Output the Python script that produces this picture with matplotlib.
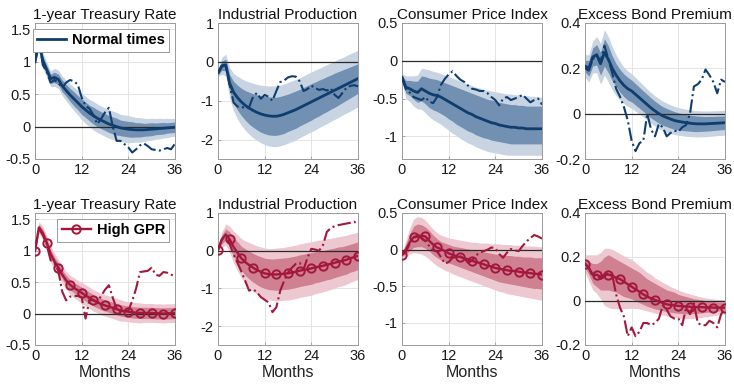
import numpy as np
import matplotlib
matplotlib.use("Agg")
import matplotlib.pyplot as plt
from matplotlib.ticker import FuncFormatter

plt.rcParams['font.family'] = ['Liberation Sans', 'DejaVu Sans']
plt.rcParams['axes.unicode_minus'] = False

months = np.arange(37)

titles = ["1-year Treasury Rate", "Industrial Production",
          "Consumer Price Index", "Excess Bond Premium"]
legend_labels = ["Normal times", "High GPR"]
x_ticks = [0, 12, 24, 36]

# --- normal times ---
rate_n_med = [1.00, 1.30, 1.02, 0.88, 0.74, 0.76, 0.73, 0.63, 0.56, 0.49, 0.43, 0.37, 0.31, 0.26, 0.21, 0.17, 0.13, 0.10, 0.07,
              0.04, 0.02, 0.00, -0.02, -0.03, -0.04, -0.045, -0.05, -0.05, -0.05, -0.045, -0.04, -0.035, -0.03, -0.025, -0.02, -0.015, -0.01]
rate_n_in_lo = [0.99, 1.23, 0.95, 0.81, 0.67, 0.68, 0.65, 0.54, 0.47, 0.39, 0.32, 0.26, 0.19, 0.14, 0.09, 0.04, 0.00, -0.03, -0.06,
                -0.09, -0.11, -0.13, -0.14, -0.15, -0.16, -0.165, -0.16, -0.16, -0.15, -0.145, -0.14, -0.125, -0.12, -0.115, -0.10, -0.095, -0.09]
rate_n_in_hi = [1.01, 1.37, 1.09, 0.95, 0.81, 0.84, 0.81, 0.72, 0.65, 0.59, 0.54, 0.48, 0.43, 0.38, 0.33, 0.30, 0.26, 0.23, 0.20,
                0.17, 0.15, 0.13, 0.10, 0.09, 0.08, 0.075, 0.06, 0.06, 0.05, 0.055, 0.06, 0.055, 0.06, 0.065, 0.06, 0.065, 0.07]
rate_n_out_lo = [0.98, 1.18, 0.90, 0.76, 0.62, 0.62, 0.59, 0.48, 0.40, 0.32, 0.25, 0.18, 0.11, 0.05, 0.00, -0.05, -0.09, -0.12, -0.15,
                 -0.18, -0.20, -0.22, -0.23, -0.24, -0.25, -0.245, -0.24, -0.24, -0.23, -0.215, -0.21, -0.195, -0.19, -0.175, -0.17, -0.155, -0.15]
rate_n_out_hi = [1.02, 1.42, 1.14, 1.00, 0.86, 0.90, 0.87, 0.78, 0.72, 0.66, 0.61, 0.56, 0.51, 0.47, 0.42, 0.39, 0.35, 0.32, 0.29,
                 0.26, 0.24, 0.22, 0.19, 0.18, 0.17, 0.155, 0.14, 0.14, 0.13, 0.125, 0.13, 0.125, 0.13, 0.125, 0.13, 0.125, 0.13]
rate_n_lp = [1.00, 1.38, 0.95, 0.85, 0.68, 0.72, 0.67, 0.60, 0.68, 0.72, 0.70, 0.65, 0.45, 0.32, 0.28, 0.18, 0.04, 0.12, 0.22,
             0.29, 0.00, -0.22, -0.22, -0.27, -0.32, -0.40, -0.35, -0.29, -0.26, -0.30, -0.35, -0.36, -0.37, -0.35, -0.33, -0.35, -0.26]

ip_n_med = [-0.28, -0.10, -0.08, -0.55, -0.78, -0.92, -1.03, -1.12, -1.19, -1.25, -1.30, -1.34, -1.37, -1.39, -1.40, -1.40, -1.38, -1.35, -1.31,
            -1.27, -1.23, -1.18, -1.13, -1.08, -1.03, -0.98, -0.93, -0.88, -0.83, -0.78, -0.73, -0.68, -0.63, -0.58, -0.53, -0.48, -0.43]
ip_n_in_lo = [-0.34, -0.22, -0.23, -0.77, -1.06, -1.24, -1.38, -1.50, -1.60, -1.68, -1.75, -1.81, -1.85, -1.88, -1.89, -1.89, -1.87, -1.84, -1.79,
              -1.75, -1.71, -1.65, -1.60, -1.55, -1.50, -1.44, -1.39, -1.33, -1.28, -1.22, -1.17, -1.11, -1.05, -0.99, -0.93, -0.87, -0.81]
ip_n_in_hi = [-0.22, 0.02, 0.07, -0.33, -0.50, -0.60, -0.68, -0.74, -0.78, -0.82, -0.85, -0.87, -0.89, -0.90, -0.91, -0.91, -0.89, -0.86, -0.83,
              -0.79, -0.75, -0.71, -0.66, -0.61, -0.56, -0.52, -0.47, -0.43, -0.38, -0.34, -0.29, -0.25, -0.21, -0.17, -0.13, -0.09, -0.05]
ip_n_out_lo = [-0.38, -0.32, -0.36, -0.95, -1.26, -1.47, -1.63, -1.76, -1.86, -1.95, -2.02, -2.08, -2.13, -2.16, -2.18, -2.18, -2.16, -2.13, -2.09,
               -2.05, -2.01, -1.95, -1.90, -1.85, -1.80, -1.75, -1.69, -1.64, -1.59, -1.53, -1.48, -1.43, -1.37, -1.32, -1.27, -1.21, -1.16]
ip_n_out_hi = [-0.18, 0.12, 0.20, -0.15, -0.30, -0.37, -0.43, -0.48, -0.52, -0.55, -0.58, -0.60, -0.61, -0.62, -0.62, -0.62, -0.60, -0.57, -0.53,
               -0.49, -0.45, -0.41, -0.36, -0.31, -0.26, -0.21, -0.17, -0.12, -0.07, -0.03, 0.02, 0.07, 0.11, 0.16, 0.21, 0.25, 0.30]
ip_n_lp = [-0.30, -0.12, -0.08, -0.60, -1.05, -1.15, -1.15, -1.20, -1.17, -0.90, -0.80, -0.95, -0.85, -0.90, -1.00, -0.75, -0.52, -0.48, -0.40,
           -0.37, -0.38, -0.50, -0.75, -0.70, -0.61, -0.68, -0.72, -0.70, -0.74, -0.68, -0.85, -0.93, -0.80, -0.67, -0.62, -0.60, -0.63]

cpi_n_med = [-0.22, -0.35, -0.37, -0.40, -0.42, -0.37, -0.40, -0.43, -0.45, -0.46, -0.48, -0.51, -0.54, -0.57, -0.60, -0.63, -0.66, -0.69, -0.71,
             -0.74, -0.76, -0.78, -0.80, -0.82, -0.83, -0.85, -0.86, -0.87, -0.88, -0.88, -0.89, -0.89, -0.90, -0.90, -0.90, -0.90, -0.90]
cpi_n_in_lo = [-0.25, -0.43, -0.46, -0.51, -0.55, -0.53, -0.57, -0.62, -0.65, -0.67, -0.70, -0.73, -0.77, -0.80, -0.84, -0.87, -0.90, -0.93, -0.95,
               -0.98, -1.00, -1.02, -1.03, -1.05, -1.06, -1.07, -1.08, -1.09, -1.10, -1.10, -1.10, -1.10, -1.10, -1.10, -1.10, -1.10, -1.10]
cpi_n_in_hi = [-0.19, -0.26, -0.26, -0.27, -0.27, -0.20, -0.21, -0.23, -0.24, -0.25, -0.27, -0.29, -0.31, -0.33, -0.35, -0.37, -0.39, -0.41, -0.43,
               -0.45, -0.47, -0.49, -0.51, -0.52, -0.53, -0.55, -0.56, -0.57, -0.58, -0.58, -0.59, -0.59, -0.60, -0.60, -0.60, -0.60, -0.60]
cpi_n_out_lo = [-0.28, -0.50, -0.54, -0.60, -0.64, -0.64, -0.69, -0.74, -0.78, -0.81, -0.84, -0.88, -0.92, -0.96, -0.99, -1.03, -1.06, -1.09, -1.11,
                -1.14, -1.16, -1.18, -1.20, -1.21, -1.22, -1.23, -1.24, -1.25, -1.25, -1.25, -1.25, -1.25, -1.25, -1.25, -1.25, -1.25, -1.25]
cpi_n_out_hi = [-0.17, -0.20, -0.20, -0.20, -0.19, -0.10, -0.11, -0.12, -0.14, -0.15, -0.17, -0.19, -0.21, -0.23, -0.25, -0.27, -0.29, -0.31, -0.33,
                -0.35, -0.36, -0.38, -0.39, -0.40, -0.41, -0.42, -0.43, -0.44, -0.44, -0.45, -0.45, -0.46, -0.46, -0.47, -0.47, -0.48, -0.48]
cpi_n_lp = [-0.22, -0.38, -0.42, -0.48, -0.50, -0.52, -0.48, -0.54, -0.56, -0.48, -0.32, -0.24, -0.18, -0.14, -0.20, -0.25, -0.28, -0.33, -0.37,
            -0.38, -0.40, -0.40, -0.43, -0.48, -0.52, -0.59, -0.50, -0.48, -0.52, -0.50, -0.48, -0.45, -0.50, -0.55, -0.52, -0.50, -0.58]

ebp_n_med = [0.21, 0.20, 0.25, 0.26, 0.22, 0.27, 0.24, 0.20, 0.17, 0.145, 0.125, 0.11, 0.10, 0.085, 0.07, 0.055, 0.04, 0.025, 0.012,
             0.0, -0.01, -0.017, -0.024, -0.03, -0.034, -0.037, -0.04, -0.042, -0.044, -0.045, -0.045, -0.045, -0.044, -0.043, -0.042, -0.041, -0.04]
ebp_n_in_lo = [0.185, 0.165, 0.21, 0.215, 0.17, 0.21, 0.18, 0.145, 0.12, 0.095, 0.075, 0.06, 0.052, 0.038, 0.024, 0.01, -0.005, -0.019, -0.031,
               -0.042, -0.051, -0.057, -0.064, -0.069, -0.072, -0.074, -0.076, -0.077, -0.079, -0.079, -0.078, -0.077, -0.076, -0.074, -0.073, -0.071, -0.07]
ebp_n_in_hi = [0.235, 0.235, 0.29, 0.305, 0.27, 0.33, 0.30, 0.255, 0.22, 0.195, 0.175, 0.16, 0.148, 0.132, 0.116, 0.10, 0.085, 0.069, 0.055,
               0.042, 0.031, 0.023, 0.016, 0.009, 0.004, 0.0, -0.004, -0.007, -0.009, -0.011, -0.012, -0.013, -0.012, -0.012, -0.011, -0.011, -0.01]
ebp_n_out_lo = [0.16, 0.14, 0.18, 0.18, 0.13, 0.17, 0.14, 0.105, 0.08, 0.06, 0.045, 0.032, 0.024, 0.011, -0.002, -0.015, -0.029, -0.043, -0.055,
                -0.066, -0.075, -0.081, -0.087, -0.092, -0.095, -0.097, -0.10, -0.101, -0.102, -0.103, -0.102, -0.102, -0.10, -0.099, -0.097, -0.096, -0.095]
ebp_n_out_hi = [0.26, 0.26, 0.32, 0.34, 0.31, 0.37, 0.34, 0.295, 0.26, 0.23, 0.205, 0.188, 0.176, 0.159, 0.142, 0.125, 0.109, 0.093, 0.079,
                0.066, 0.055, 0.047, 0.039, 0.032, 0.027, 0.023, 0.02, 0.017, 0.014, 0.013, 0.012, 0.012, 0.012, 0.013, 0.013, 0.014, 0.015]
ebp_n_lp = [0.20, 0.19, 0.24, 0.26, 0.23, 0.30, 0.24, 0.18, 0.11, 0.075, 0.03, -0.03, -0.12, -0.165, -0.13, -0.12, 0.0, -0.07, -0.10,
            -0.045, -0.06, -0.10, -0.085, -0.075, -0.08, -0.06, -0.05, 0.0, 0.12, 0.13, 0.15, 0.195, 0.17, 0.14, 0.09, 0.15, 0.14]

# --- high GPR ---
rate_h_med = [1.00, 1.37, 1.28, 1.13, 0.95, 0.83, 0.73, 0.62, 0.53, 0.46, 0.41, 0.37, 0.33, 0.29, 0.25, 0.21, 0.18, 0.15, 0.13,
              0.11, 0.09, 0.07, 0.05, 0.04, 0.03, 0.02, 0.015, 0.01, 0.01, 0.01, 0.01, 0.005, 0.005, 0.0, 0.005, 0.005, 0.01]
rate_h_in_lo = [0.99, 1.32, 1.22, 1.06, 0.88, 0.76, 0.66, 0.55, 0.45, 0.38, 0.33, 0.28, 0.24, 0.20, 0.16, 0.12, 0.09, 0.06, 0.04,
                0.02, 0.00, -0.02, -0.04, -0.05, -0.06, -0.07, -0.075, -0.08, -0.08, -0.08, -0.08, -0.085, -0.085, -0.09, -0.085, -0.085, -0.08]
rate_h_in_hi = [1.01, 1.42, 1.34, 1.20, 1.02, 0.90, 0.80, 0.69, 0.61, 0.54, 0.49, 0.46, 0.42, 0.38, 0.34, 0.30, 0.27, 0.24, 0.22,
                0.20, 0.18, 0.16, 0.14, 0.13, 0.12, 0.11, 0.105, 0.10, 0.10, 0.10, 0.10, 0.095, 0.095, 0.09, 0.095, 0.095, 0.10]
rate_h_out_lo = [0.98, 1.28, 1.17, 1.01, 0.82, 0.70, 0.60, 0.48, 0.39, 0.31, 0.25, 0.21, 0.16, 0.12, 0.08, 0.04, 0.01, -0.02, -0.04,
                 -0.06, -0.08, -0.10, -0.12, -0.12, -0.13, -0.14, -0.145, -0.15, -0.14, -0.14, -0.14, -0.145, -0.145, -0.15, -0.145, -0.145, -0.14]
rate_h_out_hi = [1.02, 1.46, 1.39, 1.25, 1.08, 0.96, 0.86, 0.76, 0.67, 0.61, 0.57, 0.53, 0.50, 0.46, 0.42, 0.38, 0.35, 0.32, 0.30,
                 0.28, 0.26, 0.24, 0.22, 0.20, 0.19, 0.18, 0.175, 0.17, 0.16, 0.16, 0.16, 0.155, 0.155, 0.15, 0.155, 0.155, 0.16]
rate_h_lp = [1.00, 1.35, 1.25, 1.10, 0.85, 0.80, 0.68, 0.35, 0.21, 0.27, 0.28, 0.28, 0.26, -0.08, 0.21, 0.22, 0.18, 0.28, 0.38,
             0.45, 0.25, 0.08, 0.02, 0.03, 0.05, 0.20, 0.40, 0.66, 0.67, 0.68, 0.73, 0.62, 0.60, 0.66, 0.65, 0.62, 0.59]

ip_h_med = [0.03, 0.30, 0.43, 0.30, 0.10, -0.05, -0.20, -0.30, -0.38, -0.45, -0.51, -0.56, -0.60, -0.62, -0.63, -0.63, -0.62, -0.61, -0.60,
            -0.58, -0.56, -0.53, -0.51, -0.49, -0.47, -0.44, -0.42, -0.40, -0.37, -0.35, -0.32, -0.29, -0.27, -0.24, -0.20, -0.17, -0.13]
ip_h_in_lo = [0.00, 0.18, 0.28, 0.10, -0.15, -0.34, -0.52, -0.65, -0.75, -0.83, -0.90, -0.96, -1.00, -1.03, -1.04, -1.05, -1.04, -1.03, -1.02,
              -1.00, -0.98, -0.95, -0.93, -0.91, -0.89, -0.85, -0.83, -0.80, -0.77, -0.75, -0.71, -0.68, -0.65, -0.62, -0.57, -0.54, -0.50]
ip_h_in_hi = [0.06, 0.42, 0.58, 0.50, 0.35, 0.24, 0.12, 0.05, -0.01, -0.07, -0.12, -0.16, -0.20, -0.21, -0.22, -0.21, -0.20, -0.19, -0.18,
              -0.16, -0.14, -0.11, -0.09, -0.07, -0.05, -0.03, -0.01, 0.00, 0.03, 0.05, 0.07, 0.10, 0.11, 0.14, 0.17, 0.20, 0.24]
ip_h_out_lo = [-0.02, 0.10, 0.15, -0.05, -0.32, -0.53, -0.72, -0.86, -0.98, -1.07, -1.15, -1.22, -1.27, -1.30, -1.32, -1.33, -1.32, -1.31, -1.31,
               -1.29, -1.27, -1.24, -1.22, -1.20, -1.18, -1.14, -1.12, -1.09, -1.06, -1.03, -0.99, -0.95, -0.93, -0.89, -0.84, -0.80, -0.76]
ip_h_out_hi = [0.08, 0.50, 0.71, 0.65, 0.52, 0.43, 0.32, 0.26, 0.22, 0.17, 0.13, 0.10, 0.07, 0.06, 0.06, 0.07, 0.08, 0.09, 0.11,
               0.13, 0.15, 0.18, 0.20, 0.22, 0.24, 0.26, 0.28, 0.29, 0.32, 0.33, 0.35, 0.37, 0.39, 0.41, 0.44, 0.46, 0.50]
ip_h_lp = [0.03, 0.30, 0.42, 0.18, -0.10, -0.32, -0.55, -0.80, -1.06, -1.02, -1.10, -1.23, -1.30, -1.37, -1.63, -1.50, -1.06, -0.80, -0.58,
           -0.45, -0.35, -0.32, -0.50, -0.19, 0.05, 0.03, 0.00, 0.15, 0.50, 0.60, 0.65, 0.68, 0.70, 0.72, 0.74, 0.77, 0.70]

cpi_h_med = [-0.07, 0.00, 0.10, 0.17, 0.19, 0.19, 0.18, 0.12, 0.07, 0.03, 0.01, -0.02, -0.05, -0.07, -0.09, -0.10, -0.12, -0.13, -0.15,
             -0.17, -0.18, -0.20, -0.22, -0.23, -0.25, -0.26, -0.27, -0.28, -0.29, -0.29, -0.30, -0.31, -0.31, -0.32, -0.33, -0.33, -0.34]
cpi_h_in_lo = [-0.09, -0.06, -0.01, 0.03, 0.04, 0.04, 0.02, -0.02, -0.07, -0.11, -0.14, -0.16, -0.18, -0.20, -0.22, -0.24, -0.26, -0.28, -0.30,
               -0.32, -0.34, -0.36, -0.38, -0.40, -0.42, -0.44, -0.45, -0.46, -0.47, -0.48, -0.49, -0.50, -0.51, -0.52, -0.53, -0.53, -0.54]
cpi_h_in_hi = [-0.05, 0.08, 0.22, 0.32, 0.35, 0.34, 0.31, 0.26, 0.20, 0.15, 0.11, 0.09, 0.07, 0.05, 0.04, 0.03, 0.02, 0.01, 0.0,
               -0.01, -0.02, -0.03, -0.04, -0.05, -0.06, -0.07, -0.07, -0.08, -0.08, -0.09, -0.09, -0.10, -0.10, -0.10, -0.11, -0.11, -0.11]
cpi_h_out_lo = [-0.10, -0.10, -0.06, -0.04, -0.05, -0.06, -0.09, -0.13, -0.18, -0.22, -0.25, -0.28, -0.30, -0.33, -0.35, -0.37, -0.39, -0.41, -0.43,
                -0.45, -0.47, -0.49, -0.51, -0.53, -0.55, -0.57, -0.58, -0.60, -0.61, -0.62, -0.63, -0.64, -0.65, -0.66, -0.67, -0.68, -0.69]
cpi_h_out_hi = [-0.04, 0.12, 0.30, 0.42, 0.45, 0.44, 0.40, 0.34, 0.28, 0.23, 0.20, 0.18, 0.16, 0.15, 0.14, 0.13, 0.12, 0.11, 0.10,
                0.10, 0.09, 0.09, 0.09, 0.08, 0.08, 0.08, 0.07, 0.07, 0.07, 0.06, 0.06, 0.06, 0.05, 0.05, 0.05, 0.04, 0.04]
cpi_h_lp = [-0.07, -0.03, 0.08, 0.16, 0.18, 0.16, 0.12, 0.05, -0.01, -0.02, -0.10, -0.19, -0.17, -0.11, -0.10, -0.09, -0.12, -0.18, -0.15,
            -0.08, -0.04, -0.02, 0.0, 0.03, 0.02, -0.06, -0.11, -0.04, 0.01, -0.01, -0.02, 0.05, 0.11, 0.16, 0.20, 0.18, 0.15]

ebp_h_med = [0.17, 0.15, 0.12, 0.12, 0.11, 0.12, 0.12, 0.115, 0.105, 0.10, 0.088, 0.076, 0.065, 0.053, 0.042, 0.03, 0.02, 0.012, 0.005,
             -0.002, -0.009, -0.015, -0.018, -0.02, -0.022, -0.024, -0.025, -0.026, -0.027, -0.028, -0.028, -0.029, -0.029, -0.03, -0.03, -0.03, -0.03]
ebp_h_in_lo = [0.15, 0.12, 0.08, 0.065, 0.05, 0.05, 0.05, 0.045, 0.04, 0.03, 0.02, 0.015, 0.01, 0.0, -0.008, -0.016, -0.024, -0.03, -0.036,
               -0.04, -0.044, -0.048, -0.051, -0.054, -0.056, -0.057, -0.058, -0.058, -0.057, -0.056, -0.054, -0.052, -0.05, -0.048, -0.046, -0.045, -0.044]
ebp_h_in_hi = [0.19, 0.18, 0.17, 0.17, 0.18, 0.20, 0.21, 0.20, 0.19, 0.18, 0.17, 0.16, 0.15, 0.14, 0.13, 0.115, 0.10, 0.09, 0.08,
               0.07, 0.06, 0.05, 0.045, 0.04, 0.03, 0.025, 0.02, 0.015, 0.01, 0.008, 0.005, 0.002, 0.0, -0.002, -0.004, -0.005, -0.006]
ebp_h_out_lo = [0.13, 0.09, 0.05, 0.035, 0.01, -0.02, -0.03, -0.035, -0.035, -0.035, -0.035, -0.034, -0.033, -0.034, -0.036, -0.04, -0.045, -0.05, -0.055,
                -0.06, -0.064, -0.068, -0.072, -0.075, -0.078, -0.079, -0.08, -0.08, -0.079, -0.077, -0.075, -0.072, -0.07, -0.067, -0.064, -0.062, -0.06]
ebp_h_out_hi = [0.21, 0.21, 0.21, 0.21, 0.22, 0.24, 0.24, 0.235, 0.225, 0.215, 0.205, 0.195, 0.19, 0.175, 0.16, 0.145, 0.13, 0.12, 0.105,
                0.095, 0.085, 0.075, 0.065, 0.058, 0.05, 0.043, 0.037, 0.032, 0.027, 0.022, 0.018, 0.014, 0.011, 0.009, 0.007, 0.006, 0.005]
ebp_h_lp = [0.17, 0.15, 0.11, 0.12, 0.10, 0.11, 0.13, 0.12, 0.03, -0.03, -0.07, -0.16, -0.12, -0.16, -0.14, -0.10, -0.10, -0.11, -0.10,
            -0.08, -0.02, -0.04, -0.07, -0.08, -0.08, -0.11, -0.03, -0.06, -0.01, -0.10, -0.11, -0.11, -0.09, -0.10, -0.12, -0.06, -0.03]

y_limits = [(-0.5, 1.6), (-2.5, 1.0), (-1.3, 0.5), (-0.2, 0.4)]
y_ticks = [[-0.5, 0, 0.5, 1, 1.5], [-2, -1, 0, 1], [-1, -0.5, 0, 0.5], [-0.2, 0, 0.2, 0.4]]

rows = [
    [(rate_n_med, rate_n_in_lo, rate_n_in_hi, rate_n_out_lo, rate_n_out_hi, rate_n_lp),
     (ip_n_med, ip_n_in_lo, ip_n_in_hi, ip_n_out_lo, ip_n_out_hi, ip_n_lp),
     (cpi_n_med, cpi_n_in_lo, cpi_n_in_hi, cpi_n_out_lo, cpi_n_out_hi, cpi_n_lp),
     (ebp_n_med, ebp_n_in_lo, ebp_n_in_hi, ebp_n_out_lo, ebp_n_out_hi, ebp_n_lp)],
    [(rate_h_med, rate_h_in_lo, rate_h_in_hi, rate_h_out_lo, rate_h_out_hi, rate_h_lp),
     (ip_h_med, ip_h_in_lo, ip_h_in_hi, ip_h_out_lo, ip_h_out_hi, ip_h_lp),
     (cpi_h_med, cpi_h_in_lo, cpi_h_in_hi, cpi_h_out_lo, cpi_h_out_hi, cpi_h_lp),
     (ebp_h_med, ebp_h_in_lo, ebp_h_in_hi, ebp_h_out_lo, ebp_h_out_hi, ebp_h_lp)],
]

# line, inner band, outer band
palettes = [("#0f3d6e", "#7190b2", "#c8d4e2"),
            ("#a3173c", "#cf8091", "#eec8d1")]

fig = plt.figure(figsize=(7.34, 3.86), dpi=100)
W, H = 734, 386
col_left = [35, 218, 402, 585]
row_top = [23, 213]
row_h = [136, 132]
ax_w = 140

fmt = FuncFormatter(lambda v, p: "%g" % v)

for r in range(2):
    line_c, in_c, out_c = palettes[r]
    for c in range(4):
        ax = fig.add_axes([col_left[c] / W, 1 - (row_top[r] + row_h[r]) / H,
                           ax_w / W, row_h[r] / H])
        med, in_lo, in_hi, out_lo, out_hi, lp = rows[r][c]
        ax.fill_between(months, out_lo, out_hi, color=out_c, lw=0, zorder=1)
        ax.fill_between(months, in_lo, in_hi, color=in_c, lw=0, zorder=2)
        ax.axhline(0, color="#2a2a2a", lw=0.9, zorder=3)
        ax.plot(months, lp, color=line_c, lw=1.5, ls="-.", zorder=4)
        if r == 0:
            h, = ax.plot(months, med, color=line_c, lw=2.0, zorder=5)
        else:
            h, = ax.plot(months, med, color=line_c, lw=1.7, marker="o", ms=6,
                         mfc="none", mew=1.4, markevery=3, zorder=5)
        ax.set_xlim(0, 36)
        ax.set_ylim(*y_limits[c])
        ax.set_xticks(x_ticks)
        ax.set_yticks(y_ticks[c])
        ax.yaxis.set_major_formatter(fmt)
        ax.grid(True, color="#e4e4e4", lw=0.7, zorder=0)
        ax.set_axisbelow(True)
        for s in ax.spines.values():
            s.set_color("#9a9a9a")
            s.set_linewidth(0.7)
        ax.tick_params(direction="in", length=2.5, width=0.6, color="#9a9a9a",
                       labelsize=10.5, labelcolor="#1a1a1a", pad=3)
        ax.set_title(titles[c], fontsize=11, pad=3, color="#111111")
        if r == 1:
            ax.set_xlabel("Months", fontsize=11.5, labelpad=1, color="#222222")
        if c == 0:
            leg = ax.legend([h], [legend_labels[r]], loc="upper right",
                            prop={"weight": "bold", "size": 10.5},
                            handlelength=2.0, borderpad=0.3, handletextpad=0.4,
                            fancybox=False, framealpha=1, borderaxespad=0.4)
            leg.get_frame().set_edgecolor("#9a9a9a")
            leg.get_frame().set_linewidth(0.7)

fig.savefig("out.png", dpi=100)
